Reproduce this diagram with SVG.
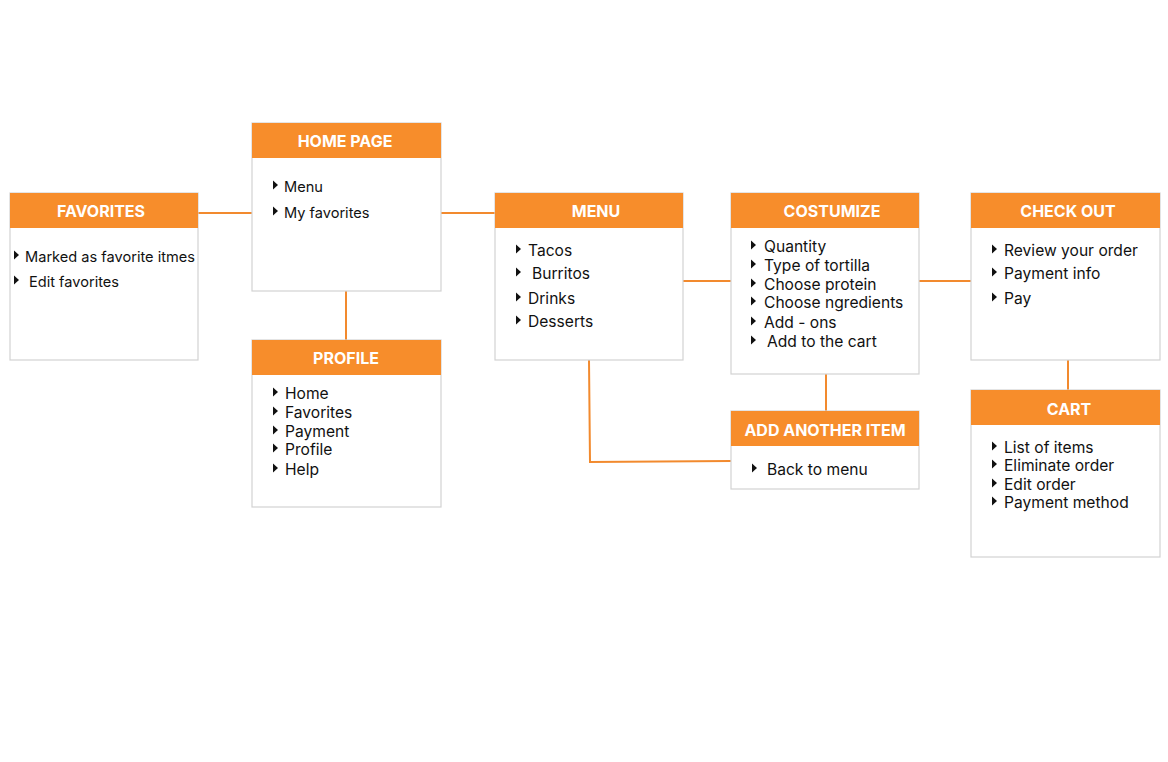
<svg xmlns="http://www.w3.org/2000/svg" xmlns:xlink="http://www.w3.org/1999/xlink" width="1168" height="762" viewBox="0 0 1168 762">
<style>
.box{fill:#fff;stroke:#d2d2d2;stroke-width:1.2}
.hdr{fill:#f78d2b}
.ht{font-family:Inter,"Liberation Sans",sans-serif;font-weight:700;font-size:16px;fill:#fff;text-anchor:middle}
.it{font-family:Inter,"Liberation Sans",sans-serif;font-size:15.6px;fill:#111}
.sm{font-size:14.6px}
.con{fill:none;stroke:#f28a2e;stroke-width:2}
</style>
<defs>
<path id="tri" d="M0,-4.5 L5,0 L0,4.5 Z" fill="#111"/>
</defs>
<rect width="1168" height="762" fill="#fff"/>
<g id="connectors">
<line class="con" x1="198" y1="213" x2="252" y2="213"/>
<line class="con" x1="441" y1="213" x2="495" y2="213"/>
<line class="con" x1="346" y1="291" x2="346" y2="340"/>
<line class="con" x1="683" y1="281" x2="731" y2="281"/>
<line class="con" x1="919" y1="281" x2="971" y2="281"/>
<line class="con" x1="1068" y1="360" x2="1068" y2="390"/>
<line class="con" x1="826" y1="374" x2="826" y2="411"/>
<polyline class="con" points="589,360 590,462 731,461"/>
</g>
<g id="favorites">
<rect class="box" x="10" y="193" width="188" height="167"/>
<rect class="hdr" x="10" y="193" width="188" height="35"/>
<text class="ht" x="101" y="217">FAVORITES</text>
<use xlink:href="#tri" x="14" y="255"/><text class="it sm" x="25" y="262">Marked as favorite itmes</text>
<use xlink:href="#tri" x="14" y="280"/><text class="it sm" x="29" y="287">Edit favorites</text>
</g>
<g id="home">
<rect class="box" x="252" y="123" width="189" height="168"/>
<rect class="hdr" x="252" y="123" width="189" height="35"/>
<text class="ht" x="345" y="147">HOME PAGE</text>
<use xlink:href="#tri" x="273" y="185"/><text class="it sm" x="284" y="192">Menu</text>
<use xlink:href="#tri" x="273" y="211"/><text class="it sm" x="284" y="218">My favorites</text>
</g>
<g id="profile">
<rect class="box" x="252" y="340" width="189" height="167"/>
<rect class="hdr" x="252" y="340" width="189" height="35"/>
<text class="ht" x="346" y="364">PROFILE</text>
<use xlink:href="#tri" x="273" y="392"/><text class="it" x="285" y="399">Home</text>
<use xlink:href="#tri" x="273" y="411"/><text class="it" x="285" y="418">Favorites</text>
<use xlink:href="#tri" x="273" y="430"/><text class="it" x="285" y="437">Payment</text>
<use xlink:href="#tri" x="273" y="448"/><text class="it" x="285" y="455">Profile</text>
<use xlink:href="#tri" x="273" y="468"/><text class="it" x="285" y="475">Help</text>
</g>
<g id="menu">
<rect class="box" x="495" y="193" width="188" height="167"/>
<rect class="hdr" x="495" y="193" width="188" height="35"/>
<text class="ht" x="596" y="217">MENU</text>
<use xlink:href="#tri" x="516" y="249"/><text class="it" x="528" y="256">Tacos</text>
<use xlink:href="#tri" x="516" y="272"/><text class="it" x="532" y="279">Burritos</text>
<use xlink:href="#tri" x="516" y="297"/><text class="it" x="528" y="304">Drinks</text>
<use xlink:href="#tri" x="516" y="320"/><text class="it" x="528" y="327">Desserts</text>
</g>
<g id="costumize">
<rect class="box" x="731" y="193" width="188" height="181"/>
<rect class="hdr" x="731" y="193" width="188" height="35"/>
<text class="ht" x="832" y="217">COSTUMIZE</text>
<use xlink:href="#tri" x="751" y="245"/><text class="it" x="764" y="252">Quantity</text>
<use xlink:href="#tri" x="751" y="264"/><text class="it" x="764" y="271">Type of tortilla</text>
<use xlink:href="#tri" x="751" y="283"/><text class="it" x="764" y="290">Choose protein</text>
<use xlink:href="#tri" x="751" y="301"/><text class="it" x="764" y="308">Choose ngredients</text>
<use xlink:href="#tri" x="751" y="321"/><text class="it" x="764" y="328">Add - ons</text>
<use xlink:href="#tri" x="751" y="340"/><text class="it" x="767" y="347">Add to the cart</text>
</g>
<g id="add-another-item">
<rect class="box" x="731" y="411" width="188" height="78"/>
<rect class="hdr" x="731" y="411" width="188" height="35"/>
<text class="ht" x="825" y="436">ADD ANOTHER ITEM</text>
<use xlink:href="#tri" x="752" y="468"/><text class="it" x="767" y="475">Back to menu</text>
</g>
<g id="checkout">
<rect class="box" x="971" y="193" width="189" height="167"/>
<rect class="hdr" x="971" y="193" width="189" height="35"/>
<text class="ht" x="1068" y="217">CHECK OUT</text>
<use xlink:href="#tri" x="992" y="249"/><text class="it" x="1004" y="256">Review your order</text>
<use xlink:href="#tri" x="992" y="272"/><text class="it" x="1004" y="279">Payment info</text>
<use xlink:href="#tri" x="992" y="297"/><text class="it" x="1004" y="304">Pay</text>
</g>
<g id="cart">
<rect class="box" x="971" y="390" width="189" height="167"/>
<rect class="hdr" x="971" y="390" width="189" height="35"/>
<text class="ht" x="1069" y="415">CART</text>
<use xlink:href="#tri" x="992" y="446"/><text class="it" x="1004" y="453">List of items</text>
<use xlink:href="#tri" x="992" y="464"/><text class="it" x="1004" y="471">Eliminate order</text>
<use xlink:href="#tri" x="992" y="483"/><text class="it" x="1004" y="490">Edit order</text>
<use xlink:href="#tri" x="992" y="501"/><text class="it" x="1004" y="508">Payment method</text>
</g>
</svg>
